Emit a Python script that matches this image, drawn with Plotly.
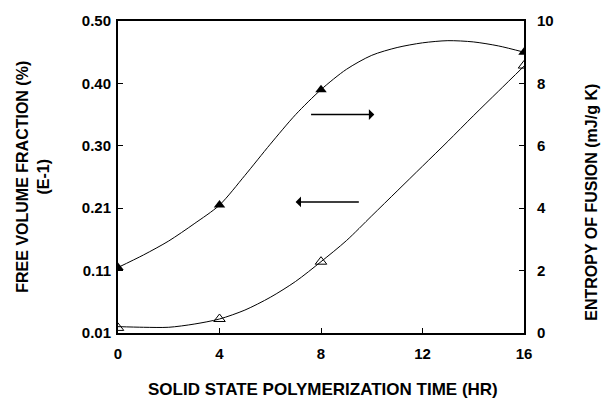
import plotly.graph_objects as go

# Data
time_pts = [0, 4, 8, 16]
entropy_pts = [2.1, 4.1, 7.8, 9.0]            # right axis (mJ/g K), filled triangles
free_vol_pts = [0.018, 0.032, 0.122, 0.43]    # left axis, open triangles

# smooth drawn curves (hourly)
curve_t = list(range(0, 17))
entropy_curve_v = [2.1, 2.5, 2.95, 3.5, 4.1, 5.05, 6.05, 7.0, 7.8, 8.45, 8.9,
                   9.15, 9.3, 9.37, 9.33, 9.2, 9.0]
free_curve_v = [0.020, 0.019, 0.019, 0.024, 0.032, 0.046, 0.066, 0.091, 0.122, 0.155,
                0.194, 0.233, 0.272, 0.311, 0.351, 0.390, 0.429]

x_ticks = [0, 4, 8, 12, 16]
left_tickvals = [0.01, 0.108, 0.206, 0.304, 0.402, 0.50]
left_ticktext = ["0.01", "0.11", "0.21", "0.30", "0.40", "0.50"]
right_ticks = [0, 2, 4, 6, 8, 10]

FONT = "Liberation Sans"

fig = go.Figure()
fig.add_trace(go.Scatter(x=curve_t, y=entropy_curve_v, mode="lines", yaxis="y2",
                         line=dict(color="black", width=1, shape="spline", smoothing=0.8),
                         showlegend=False))
fig.add_trace(go.Scatter(x=time_pts, y=entropy_pts, mode="markers", yaxis="y2",
                         marker=dict(symbol="triangle-up", size=10, color="black"), showlegend=False))
fig.add_trace(go.Scatter(x=curve_t, y=free_curve_v, mode="lines",
                         line=dict(color="black", width=1, shape="spline", smoothing=0.8),
                         showlegend=False))
fig.add_trace(go.Scatter(x=time_pts, y=free_vol_pts, mode="markers",
                         marker=dict(symbol="triangle-up-open", size=10, color="black",
                                     line=dict(width=1, color="black")), showlegend=False))

axis_common = dict(showline=True, linecolor="black", linewidth=2, ticks="inside",
                   ticklen=5, tickcolor="black", showgrid=False, zeroline=False,
                   tickfont=dict(family=FONT, size=15, color="black", weight="bold"))

fig.update_layout(
    width=601, height=400,
    margin=dict(l=118, r=77, t=15, b=67),
    paper_bgcolor="white", plot_bgcolor="white",
    xaxis=dict(range=[0, 16], tickvals=x_ticks, mirror=True, ticklabelstandoff=6, **axis_common),
    yaxis=dict(range=[0.01, 0.50], tickvals=left_tickvals, ticktext=left_ticktext,
               ticklabelstandoff=2, **axis_common),
    yaxis2=dict(range=[0, 10], tickvals=right_ticks, overlaying="y", side="right",
                ticklabelstandoff=8, **axis_common),
    annotations=[
        dict(text="<b>SOLID STATE POLYMERIZATION TIME (HR)</b>", xref="paper", yref="paper",
             x=0.505, y=-0.18, yanchor="middle", showarrow=False,
             font=dict(family=FONT, size=17, color="black")),
        dict(text="<b>FREE VOLUME FRACTION (%)<br>(E-1)</b>", xref="paper", yref="paper",
             x=-0.21, y=0.5, xanchor="center", yanchor="middle", textangle=-90, showarrow=False,
             font=dict(family=FONT, size=16, color="black")),
        dict(text="<b>ENTROPY OF FUSION (mJ/g K)</b>", xref="paper", yref="paper",
             x=1.167, y=0.42, xanchor="center", yanchor="middle", textangle=-90, showarrow=False,
             font=dict(family=FONT, size=16, color="black")),
        dict(x=10.1, y=7.0, ax=7.55, ay=7.0, xref="x", yref="y2", axref="x", ayref="y2",
             showarrow=True, arrowhead=1, arrowsize=1.2, arrowwidth=1.5, arrowcolor="black", text=""),
        dict(x=7.0, y=4.2, ax=9.55, ay=4.2, xref="x", yref="y2", axref="x", ayref="y2",
             showarrow=True, arrowhead=1, arrowsize=1.2, arrowwidth=1.5, arrowcolor="black", text=""),
    ],
)

fig.write_html("out.html")
